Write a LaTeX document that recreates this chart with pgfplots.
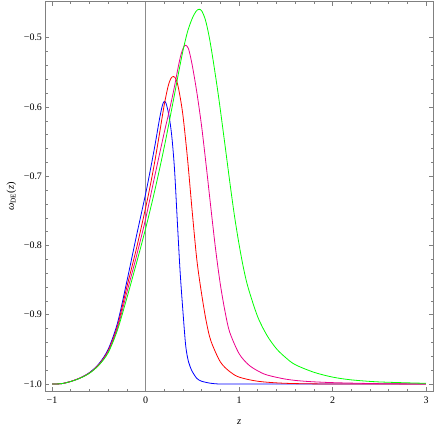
\documentclass[border=0pt]{standalone}
\usepackage{fontspec}
\setmainfont{Liberation Serif}
\usepackage{pgfplots}
\pgfplotsset{compat=1.18}
\usepackage{pgfplotstable}

\pgfplotstableread{
x y
-1.0 -1.000
-0.9 -0.9995
-0.8 -0.9963
-0.7 -0.9912
-0.6 -0.9835
-0.5 -0.971
-0.4 -0.950
-0.3 -0.912
-0.2 -0.852
-0.1 -0.788
0.0 -0.726
0.05 -0.692
0.10 -0.656
0.15 -0.617
0.18 -0.598
0.20 -0.592
0.22 -0.595
0.25 -0.612
0.28 -0.641
0.31 -0.690
0.34 -0.765
0.37 -0.838
0.40 -0.895
0.43 -0.945
0.46 -0.968
0.50 -0.982
0.55 -0.992
0.60 -0.996
0.70 -0.999
0.80 -1.000
1.0 -1.000
2.0 -1.000
3.0 -1.000
}\blue

\pgfplotstableread{
x y
-1.0 -1.000
-0.9 -0.9995
-0.8 -0.9963
-0.7 -0.9913
-0.6 -0.984
-0.5 -0.972
-0.4 -0.952
-0.3 -0.916
-0.2 -0.860
-0.1 -0.806
0.0 -0.746
0.05 -0.714
0.10 -0.678
0.15 -0.638
0.20 -0.597
0.24 -0.571
0.27 -0.559
0.30 -0.556
0.33 -0.561
0.36 -0.578
0.40 -0.612
0.45 -0.676
0.50 -0.752
0.55 -0.822
0.60 -0.870
0.65 -0.910
0.70 -0.938
0.80 -0.968
0.90 -0.982
1.00 -0.990
1.2 -0.996
1.5 -0.999
2.0 -1.000
3.0 -1.000
}\red

\pgfplotstableread{
x y
-1.0 -1.000
-0.9 -0.9995
-0.8 -0.9963
-0.7 -0.9914
-0.6 -0.9842
-0.5 -0.9725
-0.4 -0.953
-0.3 -0.919
-0.2 -0.868
-0.1 -0.817
0.0 -0.762
0.1 -0.699
0.2 -0.637
0.25 -0.608
0.30 -0.577
0.35 -0.542
0.38 -0.524
0.41 -0.513
0.43 -0.511
0.46 -0.516
0.50 -0.540
0.55 -0.580
0.60 -0.628
0.65 -0.686
0.70 -0.747
0.75 -0.806
0.80 -0.856
0.85 -0.895
0.90 -0.925
1.00 -0.956
1.10 -0.972
1.20 -0.981
1.30 -0.987
1.50 -0.993
1.70 -0.996
2.00 -0.998
2.50 -0.9995
3.00 -1.000
}\magenta

\pgfplotstableread{
x y
-1.0 -1.000
-0.9 -0.9995
-0.8 -0.9964
-0.7 -0.9916
-0.6 -0.9845
-0.5 -0.973
-0.4 -0.955
-0.3 -0.922
-0.2 -0.876
-0.1 -0.827
0.0 -0.776
0.1 -0.720
0.2 -0.658
0.3 -0.589
0.35 -0.553
0.40 -0.519
0.45 -0.491
0.50 -0.472
0.54 -0.462
0.57 -0.459
0.60 -0.461
0.64 -0.474
0.68 -0.498
0.72 -0.530
0.78 -0.584
0.85 -0.655
0.90 -0.707
0.95 -0.756
1.00 -0.798
1.05 -0.834
1.10 -0.862
1.20 -0.903
1.30 -0.930
1.40 -0.949
1.50 -0.962
1.60 -0.972
1.80 -0.983
2.00 -0.990
2.20 -0.994
2.50 -0.997
3.00 -0.999
}\green

\begin{document}
\begin{tikzpicture}
\begin{axis}[
  at={(0,0)}, anchor=south west,
  scale only axis, width=387.5bp, height=389.3bp,
  xmin=-1.07, xmax=3.075, ymin=-1.0101, ymax=-0.448,
  axis line style={black!50, line width=0.5bp},
  tick style={black!50, line width=0.5bp},
  tick align=inside,
  major tick length=4bp, minor tick length=2.5bp,
  xtick={-1,0,1,2,3}, xticklabels={−1,0,1,2,3},
  ytick={-1,-0.9,-0.8,-0.7,-0.6,-0.5},
  yticklabels={−1.0,−0.9,−0.8,−0.7,−0.6,−0.5},
  minor x tick num=4, minor y tick num=4,
  ticklabel style={font=\fontsize{10}{11}\selectfont},
  xticklabel style={yshift=-2.5bp},
  xlabel={\itshape z},
  ylabel={{\itshape ω}\textsubscript{DE}({\itshape z})},
  label style={font=\fontsize{10.5}{12}\selectfont},
  xlabel style={at={(axis description cs:0.5,-0.0796)}, anchor=center},
  ylabel style={at={(axis description cs:-0.088,0.5)}, anchor=center},
  clip=true,
]
\addplot[black!45, line width=0.6bp] coordinates {(0,-1.0101) (0,-0.448)};
\addplot[blue, line width=0.8bp, smooth, tension=0.5] table {\blue};
\addplot[red, line width=0.8bp, smooth, tension=0.5] table {\red};
\addplot[magenta, line width=0.8bp, smooth, tension=0.5] table {\magenta};
\addplot[green, line width=0.8bp, smooth, tension=0.5] table {\green};
\end{axis}
\pgfresetboundingbox
\path[use as bounding box] (-45.5bp,-37bp) rectangle (390.5bp,391bp);
\end{tikzpicture}
\end{document}
